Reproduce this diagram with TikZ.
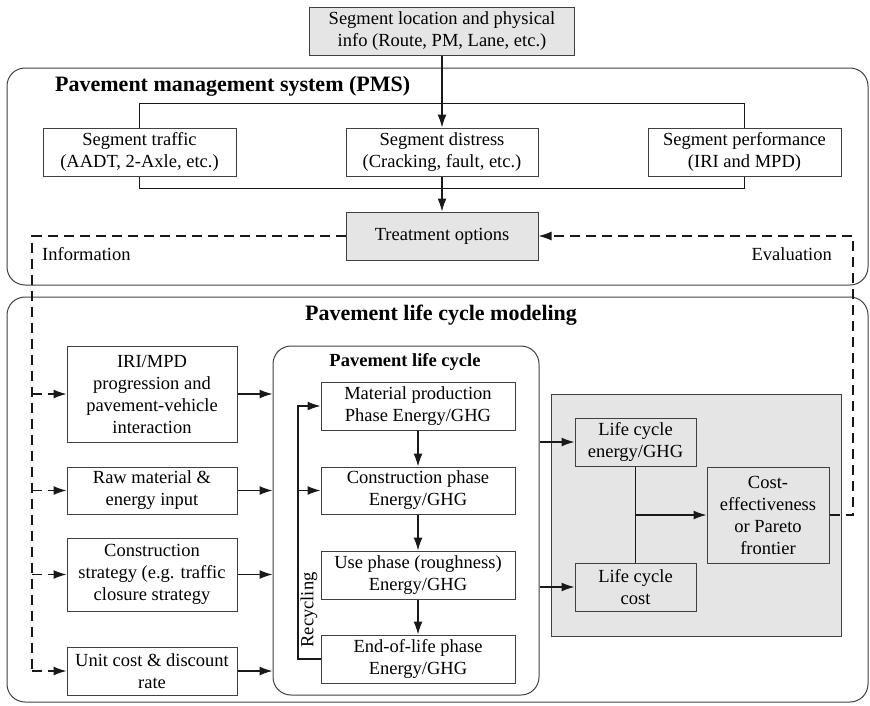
\documentclass[tikz,border=0pt]{standalone}
\usepackage{fontspec}
\setmainfont{Liberation Serif}
\usetikzlibrary{arrows.meta}

\begin{document}
\begin{tikzpicture}[x=1pt, y=-1pt, >={Latex[length=13pt,width=9pt]},
    box/.style={draw=black!75, line width=1pt, fill=white, align=center, inner sep=2pt, font=\fontsize{18.5}{22}\selectfont},
    shaded/.style={box, fill=gray!20},
    frame/.style={draw=black!75, line width=1pt, rounded corners=18pt, inner sep=0pt},
    title/.style={font=\fontsize{22}{26}\selectfont\bfseries, inner sep=0pt},
    lbl/.style={font=\fontsize{18.5}{22}\selectfont, inner sep=0pt},
    line/.style={black!90, line width=1.3pt},
    fb/.style={dash pattern=on 10pt off 6pt}]
    \useasboundingbox (0,0) rectangle (870,705);

    % Cadres
    \node[frame, minimum width=861pt, minimum height=217pt] (pms) at (437.5,176.5) {};
    \node[frame, minimum width=861pt, minimum height=405pt] (lcm) at (437.5,499.5) {};
    \node[frame, minimum width=266pt, minimum height=349pt] (plc) at (406,520.5) {};
    \node[shaded, minimum width=290pt, minimum height=242pt] (res) at (696,515) {};

    % Titres
    \node[title, anchor=west] (pmst) at (55,86) {Pavement management system (PMS)};
    \node[title] (lcmt) at (441,315) {Pavement life cycle modeling};
    \node[lbl, font=\fontsize{18.5}{22}\selectfont\bfseries] (plct) at (405,362) {Pavement life cycle};
    \node[lbl, anchor=west] (infot) at (42,254) {Information};
    \node[lbl, anchor=east] (evalt) at (832,254) {Evaluation};

    % PMS
    \node[shaded, minimum width=265pt, minimum height=48pt] (loc) at (442,31) {Segment location and physical\\info (Route, PM, Lane, etc.)};
    \node[box, minimum width=193pt, minimum height=48pt] (traf) at (139.5,152) {Segment traffic\\(AADT, 2-Axle, etc.)};
    \node[box, minimum width=192pt, minimum height=48pt] (dist) at (442,152) {Segment distress\\(Cracking, fault, etc.)};
    \node[box, minimum width=193pt, minimum height=48pt] (perf) at (744.5,152) {Segment performance\\(IRI and MPD)};
    \node[shaded, minimum width=192pt, minimum height=48pt] (treat) at (442,236) {Treatment options};

    % Entrees
    \node[box, minimum width=170pt, minimum height=96pt] (iri) at (152,394) {IRI/MPD\\progression and\\pavement-vehicle\\interaction};
    \node[box, minimum width=170pt, minimum height=47pt] (raw) at (152,490.5) {Raw material \&\\energy input};
    \node[box, minimum width=170pt, minimum height=73pt] (cons) at (152,574.5) {Construction\\strategy (e.g. traffic\\closure strategy};
    \node[box, minimum width=170pt, minimum height=48pt] (unit) at (152,671) {Unit cost \& discount\\rate};

    % Phases
    \node[box, minimum width=194pt, minimum height=48pt] (mat) at (418,406) {Material production\\Phase Energy/GHG};
    \node[box, minimum width=194pt, minimum height=47pt] (cph) at (418,490.5) {Construction phase\\Energy/GHG};
    \node[box, minimum width=194pt, minimum height=48pt] (use) at (418,575) {Use phase (roughness)\\Energy/GHG};
    \node[box, minimum width=194pt, minimum height=48pt] (eol) at (418,659) {End-of-life phase\\Energy/GHG};
    \node[lbl, rotate=90] (rect) at (309,610) {Recycling};

    % Resultats
    \node[shaded, minimum width=121pt, minimum height=48pt] (lce) at (635.5,442) {Life cycle\\energy/GHG};
    \node[shaded, minimum width=121pt, minimum height=48pt] (lcc) at (635.5,587) {Life cycle\\cost};
    \node[shaded, minimum width=122pt, minimum height=96pt] (ce) at (768,515) {Cost-\\effectiveness\\or Pareto\\frontier};

    % Fleches PMS
    \draw[line,->] (loc.south) -- (dist.north);
    \draw[line] (traf.north) -- ++(0,-24) -| (perf.north);
    \draw[line] (traf.south) -- ++(0,12) -| (perf.south);
    \draw[line,->] (dist.south) -- (treat.north);

    % Fleches cycle de vie
    \foreach \b in {iri,raw,cons,unit}
        \draw[line,->] (\b.east) -- (\b.east -| plc.west);
    \draw[line,->] (mat) -- (cph);
    \draw[line,->] (cph) -- (use);
    \draw[line,->] (use) -- (eol);
    \coordinate (rec) at (298,659);
    \draw[line,->] (eol.west) -- (rec) |- (mat.west);
    \draw[line,->] (rec |- cph.west) -- (cph.west);
    \draw[line,->] (plc.east |- lce.west) -- (lce.west);
    \draw[line,->] (plc.east |- lcc.west) -- (lcc.west);
    \draw[line] (lce.south) -- (lcc.north);
    \draw[line,->] (lce.south |- ce.west) -- (ce.west);

    % Retours
    \coordinate (info) at (32,236);
    \coordinate (eval) at (853,515);
    \draw[line,fb] (treat.west) -- (info) -- (info |- unit.west);
    \foreach \b in {iri,raw,cons,unit}
        \draw[line,fb,->] (info |- \b.west) -- (\b.west);
    \draw[line,fb,->] (ce.east) -- (eval) |- (treat.east);

\end{tikzpicture}
\end{document}
